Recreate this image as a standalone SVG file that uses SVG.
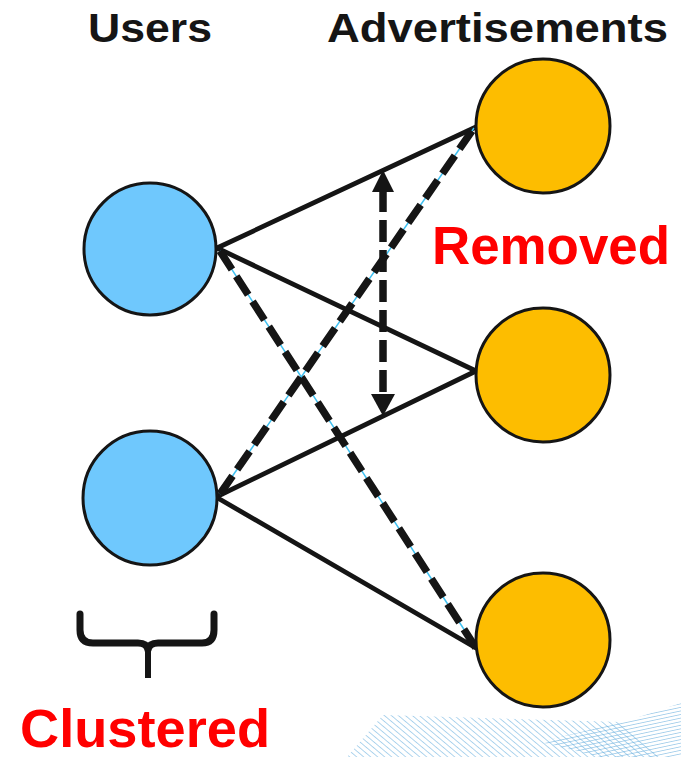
<svg xmlns="http://www.w3.org/2000/svg" width="681" height="757" viewBox="0 0 681 757">
  <style>
    .user { fill: #6fc8fd; stroke: #151515; stroke-width: 3; }
    .ad { fill: #fdbd00; stroke: #151515; stroke-width: 3; }
    .solid { stroke: #151515; stroke-width: 4.8; fill: none; stroke-linecap: round; }
    .guide { stroke: #3fc0f0; stroke-width: 1.5; fill: none; }
    .dash { stroke: #151515; stroke-width: 7.5; fill: none; stroke-dasharray: 22 8; }
    .head { fill: #151515; }
    .title { font-family: "Liberation Sans", Arial, sans-serif; font-weight: bold; font-size: 41px; fill: #151515; }
    .note { font-family: "Liberation Sans", Arial, sans-serif; font-weight: bold; fill: #ff0000; }
    .hatch { stroke: #6fb3e0; stroke-width: 1.1; }
  </style>
  <defs>
    <pattern id="diag" patternUnits="userSpaceOnUse" width="4.5" height="4.5" patternTransform="rotate(-50)">
      <line x1="0" y1="0" x2="0" y2="4.5" class="hatch"/>
    </pattern>
    <pattern id="flat" patternUnits="userSpaceOnUse" width="3.5" height="3.5" patternTransform="rotate(-12)">
      <line x1="0" y1="0" x2="3.5" y2="0" class="hatch"/>
    </pattern>
  </defs>

  <!-- decorative hatched band in the lower right corner -->
  <g id="band">
    <polygon points="347,757 383,715 620,722 660,757" fill="url(#diag)"/>
    <polygon points="540,742 630,720 681,703 681,757 600,757" fill="url(#flat)"/>
  </g>

  <!-- connectors -->
  <g id="connectors">
    <line class="solid" x1="217" y1="248" x2="476" y2="127"/>
    <line class="solid" x1="217" y1="248" x2="476" y2="371"/>
    <line class="solid" x1="216" y1="497" x2="476" y2="371"/>
    <line class="solid" x1="216" y1="497" x2="476" y2="648"/>
    <!-- dashed links with thin light guide beneath -->
    <line class="guide" x1="220" y1="251" x2="476" y2="648"/>
    <line class="dash" x1="220" y1="251" x2="476" y2="648"/>
    <line class="guide" x1="220" y1="494" x2="474" y2="128"/>
    <line class="dash" x1="220" y1="494" x2="474" y2="128"/>
    <!-- vertical double arrow -->
    <line class="dash" x1="383" y1="190" x2="383" y2="396" stroke-dasharray="25 7" stroke-width="9"/>
    <polygon class="head" points="383,170 394,192 372,192"/>
    <polygon class="head" points="383,416 395,394 371,394"/>
  </g>

  <!-- user nodes -->
  <g id="user1"><circle class="user" cx="150" cy="249" r="66"/></g>
  <g id="user2"><circle class="user" cx="150" cy="498" r="67"/></g>

  <!-- advertisement nodes -->
  <g id="ad1"><circle class="ad" cx="543" cy="126" r="67"/></g>
  <g id="ad2"><circle class="ad" cx="543" cy="375" r="67"/></g>
  <g id="ad3"><circle class="ad" cx="543" cy="640" r="67"/></g>

  <!-- brace under the users -->
  <g id="brace">
    <path d="M 80 614 L 80 630 Q 80 643 93 643 L 138 643 Q 147 643 148 650 Q 149 643 158 643 L 202 643 Q 214 643 214 630 L 214 614" fill="none" stroke="#151515" stroke-width="7" stroke-linecap="round" stroke-linejoin="round"/>
    <path d="M 145 645 L 151 645 L 151 678 L 145 678 Z" fill="#151515"/>
  </g>

  <!-- labels -->
  <g id="labels">
    <text class="title" x="88" y="42" textLength="124" lengthAdjust="spacingAndGlyphs">Users</text>
    <text class="title" x="327" y="42" textLength="341" lengthAdjust="spacingAndGlyphs">Advertisements</text>
    <text class="note" x="432" y="264" font-size="53" textLength="238" lengthAdjust="spacingAndGlyphs">Removed</text>
    <text class="note" x="20" y="747" font-size="53" textLength="250" lengthAdjust="spacingAndGlyphs">Clustered</text>
  </g>
</svg>
